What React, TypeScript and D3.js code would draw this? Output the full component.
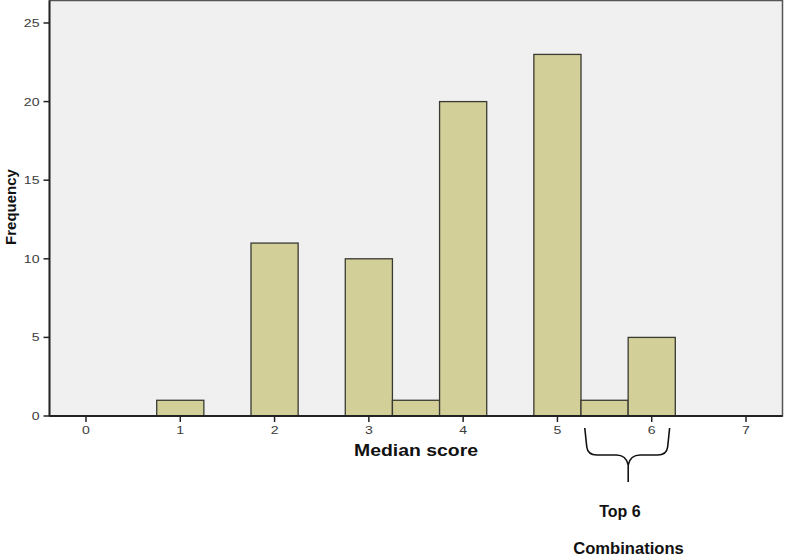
import React from "react";
import * as d3 from "d3";

const binCenters = [1, 2, 3, 3.5, 4, 5, 5.5, 6];
const counts = [1, 11, 10, 1, 20, 23, 1, 5];
const binWidth = 0.5;
const xTicks = [0, 1, 2, 3, 4, 5, 6, 7];
const yTicks = [0, 5, 10, 15, 20, 25];
const xLabel = "Median score";
const yLabel = "Frequency";
const noteLines = ["Top 6", "Combinations"];
const braceRange = [5.29, 6.19];

const W = 785;
const H = 558;
const left = 49.5;
const right = 782.5;
const top = 0.5;
const bottom = 416;
const FONT = "Liberation Sans, Arial, sans-serif";

export default function App() {
  const x = d3.scaleLinear().domain([-0.387, 7.387]).range([left, right]);
  const y = d3.scaleLinear().domain([0, 26.43]).range([bottom, top]);

  const bx0 = x(braceRange[0]);
  const bx1 = x(braceRange[1]);
  const bm = (bx0 + bx1) / 2 + 1;
  const by0 = 428;
  const by1 = 455;
  const tipY = 482;
  const r = 8;
  const bracePath = [
    `M${bx0},${by0}`,
    `L${bx0 + 2},${by1 - r}`,
    `Q${bx0 + 3},${by1} ${bx0 + r + 4},${by1}`,
    `L${bm - 12},${by1}`,
    `Q${bm - 2},${by1} ${bm},${by1 + 10}`,
    `L${bm},${tipY}`,
    `M${bx1},${by0}`,
    `L${bx1 - 2},${by1 - r}`,
    `Q${bx1 - 3},${by1} ${bx1 - r - 4},${by1}`,
    `L${bm + 12},${by1}`,
    `Q${bm + 2},${by1} ${bm},${by1 + 10}`,
  ].join(" ");

  return (
    <svg
      width={W}
      height={H}
      style={{ position: "absolute", left: 0, top: 0, background: "#fff" }}
    >
      <rect
        x={left}
        y={top}
        width={right - left}
        height={bottom - top}
        fill="#f0f0f0"
        stroke="#555"
        strokeWidth={1.5}
      />
      {binCenters.map((c, i) => (
        <rect
          key={i}
          x={x(c - binWidth / 2)}
          y={y(counts[i])}
          width={x(c + binWidth / 2) - x(c - binWidth / 2)}
          height={bottom - y(counts[i])}
          fill="#d3cf98"
          stroke="#3a3a32"
          strokeWidth={1.3}
        />
      ))}
      <line x1={left} x2={left} y1={top} y2={bottom} stroke="#222" strokeWidth={1.8} />
      <line x1={left} x2={right} y1={bottom} y2={bottom} stroke="#222" strokeWidth={1.8} />
      {yTicks.map((t) => (
        <g key={t}>
          <line x1={left - 6} x2={left} y1={y(t)} y2={y(t)} stroke="#222" strokeWidth={1.5} />
          <text
            transform={`translate(${left - 10},${y(t)}) scale(1.28,1)`}
            dy="0.36em"
            textAnchor="end"
            fontFamily={FONT}
            fontSize={11}
            fill="#3c3c3c"
          >
            {t}
          </text>
        </g>
      ))}
      {xTicks.map((t) => (
        <g key={t}>
          <line x1={x(t)} x2={x(t)} y1={bottom} y2={bottom + 6} stroke="#222" strokeWidth={1.5} />
          <text
            transform={`translate(${x(t)},${bottom + 17.5}) scale(1.28,1)`}
            textAnchor="middle"
            fontFamily={FONT}
            fontSize={11}
            fill="#3c3c3c"
          >
            {t}
          </text>
        </g>
      ))}
      <text
        x={416}
        y={456}
        textAnchor="middle"
        fontFamily={FONT}
        fontWeight="bold"
        fontSize={17}
        textLength={124}
        lengthAdjust="spacingAndGlyphs"
        fill="#111"
      >
        {xLabel}
      </text>
      <text
        transform={`translate(16,${207}) rotate(-90)`}
        textAnchor="middle"
        fontFamily={FONT}
        fontWeight="bold"
        fontSize={15}
        fill="#111"
      >
        {yLabel}
      </text>
      <path d={bracePath} fill="none" stroke="#111" strokeWidth={1.6} />
      <text
        x={620}
        y={517}
        textAnchor="middle"
        fontFamily={FONT}
        fontWeight="bold"
        fontSize={16}
        fill="#111"
      >
        {noteLines[0]}
      </text>
      <text
        x={628.5}
        y={554}
        textAnchor="middle"
        fontFamily={FONT}
        fontWeight="bold"
        fontSize={16.6}
        fill="#111"
      >
        {noteLines[1]}
      </text>
    </svg>
  );
}
